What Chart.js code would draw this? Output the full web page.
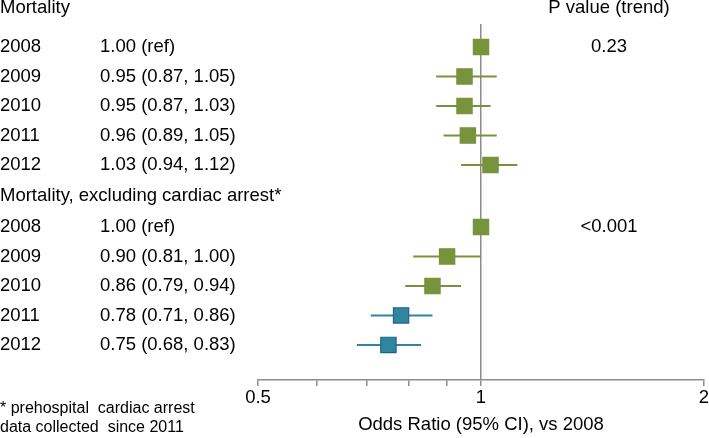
<!DOCTYPE html>
<html>
<head>
<meta charset="utf-8">
<script src="https://cdn.jsdelivr.net/npm/chart.js@4"></script>
<style>
html,body{margin:0;padding:0;background:#fff;}
canvas{display:block;}
</style>
</head>
<body>
<canvas id="c" width="709" height="438"></canvas>
<script>
// ---- data ----
const years = ['2008', '2009', '2010', '2011', '2012'];
const groupTitles = ['Mortality', 'Mortality, excluding cardiac arrest*'];
const mortOR = [1.00, 0.95, 0.95, 0.96, 1.03];
const mortLo = [null, 0.87, 0.87, 0.89, 0.94];
const mortHi = [null, 1.05, 1.03, 1.05, 1.12];
const exclOR = [1.00, 0.90, 0.86, 0.78, 0.75];
const exclLo = [null, 0.81, 0.79, 0.71, 0.68];
const exclHi = [null, 1.00, 0.94, 0.86, 0.83];
const pHeader = 'P value (trend)';
const pValues = ['0.23', '<0.001'];
const xTickValues = [0.5, 0.6, 0.7, 0.8, 0.9, 1, 2];
const xTickLabels = ['0.5', '1', '2'];
const xTitle = 'Odds Ratio (95% CI), vs 2008';
const footnote = ['* prehospital  cardiac arrest', 'data collected  since 2011'];
const prehospitalSince = '2011';

// ---- build ----
const FONT = "'Liberation Sans', Arial, Helvetica, sans-serif";
Chart.defaults.font.family = FONT;
const GREEN = '#77933c';
const BLUE = '#31869f';
const BLUE_BORDER = '#24608a';
const GRAY = '#8c8c8c';

const groups = [
  {or: mortOR, lo: mortLo, hi: mortHi, highlight: false},
  {or: exclOR, lo: exclLo, hi: exclHi, highlight: true}
];
const GROUP_STEP = 6.1;
const rowOf = (g, i) => 1 + i + g * GROUP_STEP;
const headerRowOf = g => g === 0 ? rowOf(0, 0) - 1.32 : rowOf(1, 0) - 1.05;
const isBlue = (g, i) => groups[g].highlight && Number(years[i]) >= Number(prehospitalSince);

const squarePts = [], squareFill = [], squareBorder = [];
const datasets = [];
groups.forEach((G, g) => {
  G.or.forEach((v, i) => {
    squarePts.push({x: v, y: rowOf(g, i)});
    squareFill.push(isBlue(g, i) ? BLUE : GREEN);
    squareBorder.push(isBlue(g, i) ? BLUE_BORDER : GREEN);
    if (G.lo[i] != null) {
      datasets.push({
        type: 'line',
        data: [{x: G.lo[i], y: rowOf(g, i)}, {x: G.hi[i], y: rowOf(g, i)}],
        borderColor: isBlue(g, i) ? BLUE : GREEN,
        borderWidth: 2,
        pointRadius: 0,
        fill: false,
        order: 2
      });
    }
  });
});
datasets.unshift({
  type: 'scatter',
  data: squarePts,
  pointStyle: 'rect',
  pointRadius: 10.8,
  pointBackgroundColor: squareFill,
  pointBorderColor: squareBorder,
  pointBorderWidth: 1.2,
  order: 1
});

const textPlugin = {
  id: 'forestText',
  afterDraw(chart) {
    const ctx = chart.ctx;
    const y = chart.scales.y;
    const x = chart.scales.x;
    const area = chart.chartArea;
    ctx.save();
    ctx.fillStyle = '#000';
    ctx.font = '18.5px ' + FONT;
    ctx.textBaseline = 'middle';
    groups.forEach((G, g) => {
      ctx.textAlign = 'left';
      ctx.fillText(groupTitles[g], 0, y.getPixelForValue(headerRowOf(g)));
      G.or.forEach((v, i) => {
        const py = y.getPixelForValue(rowOf(g, i));
        ctx.textAlign = 'left';
        ctx.fillText(years[i], 0, py);
        const txt = G.lo[i] == null ? v.toFixed(2) + ' (ref)'
          : v.toFixed(2) + ' (' + G.lo[i].toFixed(2) + ', ' + G.hi[i].toFixed(2) + ')';
        ctx.fillText(txt, 100, py);
      });
      ctx.textAlign = 'center';
      ctx.fillText(pValues[g], 609, y.getPixelForValue(rowOf(g, 0)));
    });
    ctx.textAlign = 'center';
    ctx.fillText(pHeader, 609, y.getPixelForValue(headerRowOf(0)));
    // x tick labels, placed by the log scale
    xTickLabels.forEach(l => {
      ctx.fillText(l, x.getPixelForValue(Number(l)), area.bottom + 18);
    });
    ctx.font = '16px ' + FONT;
    ctx.textAlign = 'left';
    ctx.textBaseline = 'alphabetic';
    ctx.fillText(footnote[0], 0, area.bottom + 33);
    ctx.fillText(footnote[1], 0, area.bottom + 52);
    ctx.restore();
  }
};

new Chart(document.getElementById('c'), {
  type: 'scatter',
  data: {datasets},
  options: {
    responsive: false,
    animation: false,
    layout: {autoPadding: false, padding: {left: 258, right: 5, top: 24, bottom: 0}},
    plugins: {legend: {display: false}, tooltip: {enabled: false}},
    scales: {
      x: {
        type: 'logarithmic',
        min: 0.5, max: 2,
        position: 'bottom',
        afterBuildTicks: s => { s.ticks = xTickValues.map(v => ({value: v})); },
        afterFit: s => { s.height = 58; s.paddingLeft = 0; s.paddingRight = 0; },
        ticks: {
          autoSkip: false, maxRotation: 0, minRotation: 0,
          color: '#000', padding: 0,
          font: {size: 18.5, family: FONT},
          callback: () => ''
        },
        grid: {
          color: c => (c.tick && c.tick.value === 1) ? GRAY : 'rgba(0,0,0,0)',
          tickColor: GRAY,
          tickLength: 6,
          lineWidth: 1.5,
          drawOnChartArea: true
        },
        border: {color: GRAY, width: 1.5},
        title: {
          display: true, text: xTitle, color: '#000',
          font: {size: 18.5, family: FONT},
          padding: {top: 0, bottom: 2}
        }
      },
      y: {type: 'linear', display: false, reverse: true, min: 0.22, max: 12.29}
    }
  },
  plugins: [textPlugin]
});
</script>
</body>
</html>
